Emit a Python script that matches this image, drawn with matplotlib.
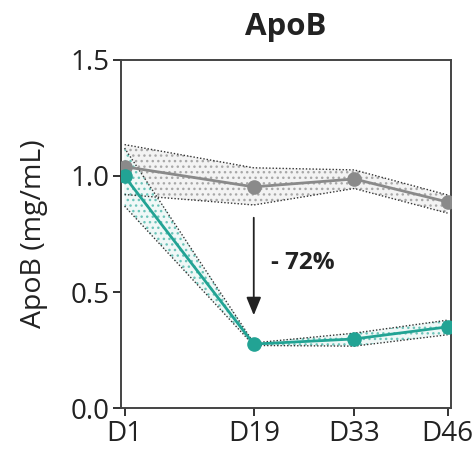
import matplotlib
matplotlib.use("Agg")
import matplotlib.pyplot as plt
import numpy as np

plt.rcParams['font.family'] = ['Open Sans', 'DejaVu Sans']
plt.rcParams['hatch.linewidth'] = 1.0

days = [1, 19, 33, 46]
day_labels = ["D1", "D19", "D33", "D46"]

# control group
ctrl_mean = [1.04, 0.953, 0.987, 0.888]
ctrl_upper = [1.135, 1.035, 1.026, 0.918]
ctrl_lower = [0.92, 0.875, 0.946, 0.84]

# treated group
trt_mean = [0.998, 0.276, 0.298, 0.350]
trt_upper = [1.12, 0.281, 0.323, 0.379]
trt_lower = [0.87, 0.270, 0.267, 0.316]

drop_label = "- 72%"

grey = "#8a8a8a"
teal = "#22a394"
dark = "#222222"

fig = plt.figure(figsize=(4.74, 4.5), dpi=100, facecolor="white")
ax = fig.add_axes([0.256, 0.093, 0.695, 0.774])

for m, up, lo, c, fc, hc in [(ctrl_mean, ctrl_upper, ctrl_lower, grey, "#f3f3f3", "#a8a8a8"),
                             (trt_mean, trt_upper, trt_lower, teal, "#f0f8f7", "#6cc4b9")]:
    ax.fill_between(days, lo, up, facecolor=fc, edgecolor=hc, hatch="...",
                    linewidth=0, zorder=1)
    ax.plot(days, up, color="#333333", ls=(0, (1, 1.4)), lw=1.0, zorder=2)
    ax.plot(days, lo, color="#333333", ls=(0, (1, 1.4)), lw=1.0, zorder=2)
    ax.plot(days, m, color=c, lw=2.0, marker="o", ms=9.5, mec=c, zorder=3)

# arrow for the reduction at D19
ax.annotate("", xy=(days[1], 0.40), xytext=(days[1], 0.82),
            arrowprops=dict(arrowstyle="-|>,head_width=0.45,head_length=1.1",
                            color=dark, lw=1.3, shrinkA=0, shrinkB=0))
ax.text(21.4, 0.625, drop_label, fontsize=17.5, fontweight="bold", color=dark,
        ha="left", va="center")

ax.set_xlim(0.55, 46.45)
ax.set_ylim(0, 1.5)
ax.set_xticks(days)
ax.set_xticklabels(day_labels)
ax.set_yticks([0, 0.5, 1.0, 1.5])
ax.set_yticklabels(["0.0", "0.5", "1.0", "1.5"])
ax.tick_params(labelsize=20, colors=dark, length=6, width=1.3, pad=2.5)
for s in ax.spines.values():
    s.set_linewidth(1.4)
    s.set_color("#444444")

ax.set_ylabel("ApoB (mg/mL)", fontsize=20.5, color=dark, labelpad=16)
ax.set_title("ApoB", fontsize=22.5, fontweight="bold", color=dark, pad=18)

fig.savefig("out.png", dpi=100)
